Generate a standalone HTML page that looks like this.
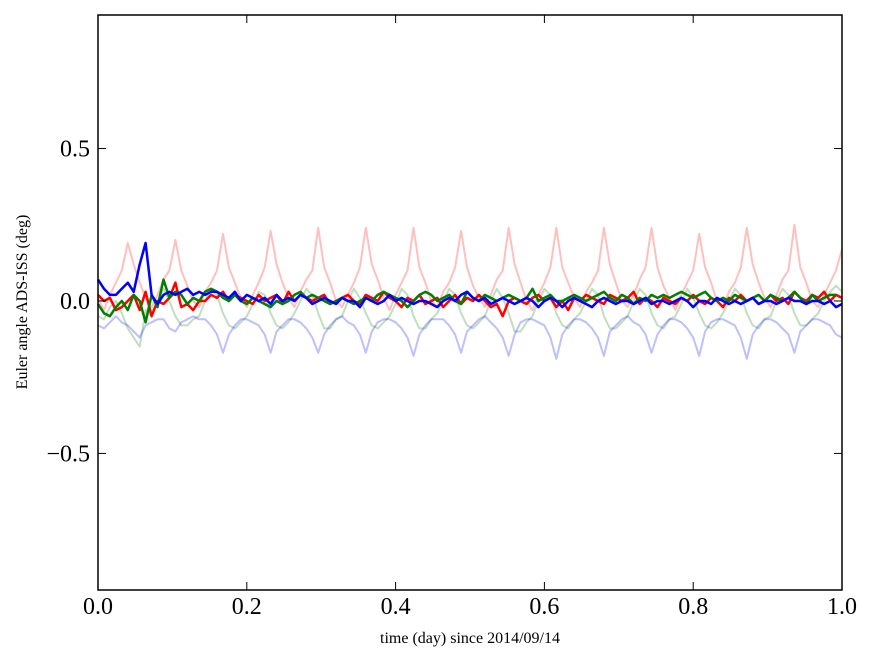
<!DOCTYPE html>
<html><head><meta charset="utf-8"><style>
body{margin:0;background:#fff;}
svg{display:block;font-family:"Liberation Serif",serif;}
</style></head><body>
<svg id="chart" width="875" height="662" viewBox="0 0 875 662" xmlns="http://www.w3.org/2000/svg">
<rect width="875" height="662" fill="#fff"/>
<g id="series"></g>
<rect x="98" y="15" width="744" height="575" fill="none" stroke="#000" stroke-width="1.5"/>
<g id="ticks"></g>
<text x="470" y="643" font-size="16" text-anchor="middle">time (day) since 2014/09/14</text>
<text transform="translate(27,302) rotate(-90)" font-size="16" text-anchor="middle">Euler angle ADS-ISS (deg)</text>
</svg>
<script>
const xTicks=[0,0.2,0.4,0.6,0.8,1.0];
const xTickLabels=["0.0","0.2","0.4","0.6","0.8","1.0"];
const yTicks=[0.5,0,-0.5];
const yTickLabels=["0.5","0.0","\u22120.5"];
const step=0.008;
const faintRed=[0.01,
-0.03,0.02,0.06,0.1,0.19,0.12,0.06,0.01,
-0.02,0.02,0.07,0.1,0.2,0.1,0.05,0.0,
-0.02,0.03,0.06,0.1,0.22,0.11,0.06,0.01,
-0.02,0.02,0.06,0.11,0.23,0.12,0.06,0.01,
-0.02,0.03,0.07,0.1,0.24,0.11,0.06,0.0,
-0.02,0.02,0.06,0.11,0.24,0.12,0.07,0.01,
-0.03,0.02,0.06,0.1,0.24,0.11,0.06,0.0,
-0.02,0.03,0.06,0.11,0.23,0.11,0.05,0.01,
-0.02,0.02,0.07,0.1,0.24,0.12,0.06,0.0,
-0.03,0.02,0.06,0.11,0.24,0.11,0.06,0.01,
-0.02,0.03,0.06,0.1,0.24,0.12,0.06,0.0,
-0.02,0.02,0.07,0.11,0.24,0.11,0.05,0.01,
-0.03,0.02,0.06,0.1,0.22,0.11,0.06,0.0,
-0.02,0.03,0.06,0.11,0.24,0.12,0.06,0.01,
-0.02,0.02,0.07,0.1,0.25,0.11,0.06,0.0,
-0.02,0.02,0.06,0.1,0.17];
const faintGreen=[-0.05,
-0.06,-0.02,0.0,-0.04,-0.09,-0.12,-0.15,-0.03,
-0.05,0.0,0.04,0.0,-0.05,-0.08,-0.08,-0.06,
-0.05,0.0,0.04,0.02,-0.04,-0.08,-0.09,-0.07,
-0.05,-0.01,0.03,0.02,-0.04,-0.08,-0.09,-0.07,
-0.04,0.0,0.04,0.02,-0.04,-0.09,-0.09,-0.06,
-0.05,0.0,0.04,0.01,-0.04,-0.08,-0.09,-0.07,
-0.05,-0.01,0.04,0.02,-0.05,-0.09,-0.09,-0.06,
-0.04,0.0,0.04,0.02,-0.04,-0.08,-0.09,-0.07,
-0.05,0.0,0.04,0.01,-0.04,-0.1,-0.1,-0.07,
-0.05,0.0,0.04,0.02,-0.04,-0.08,-0.09,-0.06,
-0.04,0.0,0.04,0.02,-0.05,-0.09,-0.09,-0.07,
-0.05,0.0,0.04,0.02,-0.04,-0.08,-0.09,-0.06,
-0.05,-0.01,0.04,0.01,-0.04,-0.08,-0.09,-0.07,
-0.04,0.0,0.04,0.02,-0.04,-0.08,-0.09,-0.06,
-0.05,0.0,0.04,0.02,-0.04,-0.08,-0.08,-0.06,
-0.04,0.0,0.03,0.05,0.03];
const faintBlue=[-0.08,
-0.09,-0.07,-0.05,-0.07,-0.08,-0.1,-0.12,-0.08,
-0.07,-0.06,-0.06,-0.09,-0.1,-0.07,-0.06,-0.05,
-0.06,-0.06,-0.08,-0.11,-0.17,-0.11,-0.08,-0.06,
-0.06,-0.07,-0.08,-0.11,-0.17,-0.1,-0.08,-0.06,
-0.06,-0.07,-0.09,-0.12,-0.17,-0.11,-0.08,-0.06,
-0.05,-0.07,-0.08,-0.11,-0.17,-0.1,-0.07,-0.06,
-0.06,-0.07,-0.09,-0.12,-0.18,-0.11,-0.08,-0.06,
-0.06,-0.06,-0.08,-0.11,-0.17,-0.1,-0.08,-0.06,
-0.05,-0.07,-0.09,-0.12,-0.18,-0.11,-0.07,-0.06,
-0.06,-0.07,-0.08,-0.12,-0.19,-0.11,-0.08,-0.06,
-0.06,-0.07,-0.09,-0.12,-0.18,-0.1,-0.08,-0.06,
-0.05,-0.07,-0.08,-0.11,-0.17,-0.11,-0.08,-0.06,
-0.06,-0.07,-0.09,-0.12,-0.18,-0.1,-0.07,-0.06,
-0.06,-0.07,-0.08,-0.12,-0.19,-0.11,-0.08,-0.06,
-0.06,-0.07,-0.09,-0.11,-0.17,-0.1,-0.08,-0.06,
-0.06,-0.07,-0.08,-0.11,-0.12];
const boldRed=[0.02,0.0,0.01,-0.03,-0.02,0.0,0.02,-0.03,0.03,-0.05,0.0,-0.01,0.01,0.06,-0.02,-0.01,-0.03,0.0,0.0,0.02,0.01,0.03,0.0,0.02,0.01,0.0,-0.01,0.02,0.0,0.01,0.02,-0.01,0.03,0.0,0.02,0.01,0.0,0.01,0.02,-0.01,0.0,0.01,0.02,0.0,-0.01,0.02,0.01,0.0,0.03,0.01,0.0,-0.02,0.01,0.0,0.02,-0.01,0.0,0.01,-0.02,0.0,0.02,-0.01,0.01,0.0,0.02,0.0,-0.02,-0.01,-0.05,0.0,0.01,0.0,-0.01,0.01,0.02,0.0,0.01,-0.02,0.0,-0.03,0.01,0.0,0.02,0.01,0.0,-0.01,0.02,0.01,0.0,0.01,0.03,-0.01,0.01,0.0,-0.02,0.01,0.0,-0.01,0.01,0.0,0.02,0.0,-0.01,0.01,0.0,-0.02,0.01,0.0,0.02,0.0,0.01,-0.01,0.0,0.02,0.0,0.01,-0.01,0.03,0.01,0.0,0.02,0.01,0.03,0.0,0.02,0.01];
const boldGreen=[-0.01,-0.04,-0.05,-0.02,0.0,-0.03,0.02,0.0,-0.07,0.02,-0.02,0.07,0.01,0.03,0.02,-0.01,0.01,0.0,0.03,0.04,0.03,0.01,0.0,0.02,0.0,-0.01,0.01,0.0,-0.01,-0.02,0.0,-0.01,0.0,0.02,0.03,0.01,0.02,0.01,0.0,-0.01,0.0,0.01,0.0,-0.01,0.0,0.01,0.0,0.02,0.03,0.02,0.01,0.0,-0.02,0.0,0.02,0.03,0.02,0.0,0.01,0.02,0.0,-0.01,0.03,0.01,0.0,0.02,0.01,0.0,0.01,0.02,0.01,0.0,0.01,0.04,0.0,0.01,0.02,0.0,0.0,0.01,0.02,0.01,0.0,0.01,0.02,0.03,0.01,0.0,0.02,0.01,-0.01,0.01,0.0,0.02,0.01,0.02,0.01,0.02,0.03,0.02,0.01,0.02,0.03,0.01,0.0,0.01,0.0,0.02,0.01,0.0,0.01,0.02,0.0,0.02,0.01,0.0,0.01,0.03,0.01,-0.01,0.02,0.0,0.01,0.02,0.02];
const boldBlue=[0.07,0.04,0.02,0.02,0.04,0.06,0.03,0.12,0.19,0.02,-0.01,0.02,0.03,0.02,0.03,0.04,0.02,0.03,0.02,0.03,0.03,0.02,0.01,0.03,0.0,0.02,0.01,0.0,0.01,-0.01,0.02,0.0,0.01,0.0,0.02,0.01,-0.01,0.0,0.01,0.0,-0.01,0.01,0.0,0.0,-0.02,0.01,0.0,-0.01,0.0,0.02,0.0,0.01,0.0,-0.01,0.0,0.0,-0.01,-0.02,0.0,0.01,0.0,0.02,0.03,0.01,0.0,0.01,-0.01,0.0,0.01,0.0,-0.01,0.0,0.01,0.0,-0.02,0.0,0.01,0.0,-0.02,0.0,0.01,0.0,-0.01,-0.02,0.0,0.01,0.0,-0.01,0.0,0.0,-0.01,0.0,0.01,-0.01,0.0,0.0,-0.01,0.0,0.01,0.0,-0.02,0.0,0.0,-0.01,0.01,0.0,-0.01,0.0,-0.01,0.0,0.01,-0.01,0.0,0.0,-0.01,0.0,0.01,0.0,0.0,-0.01,0.0,0.0,-0.01,0.0,-0.02,-0.01];

const X0=98,X1=842,Y0=15,Y1=590,YMIN=-0.948,YMAX=0.938;
const xs=v=>X0+(v-0)/(1-0)*(X1-X0);
const ys=v=>Y1-(v-YMIN)/(YMAX-YMIN)*(Y1-Y0);
const NS="http://www.w3.org/2000/svg";
const g=document.getElementById('series');
function line(data,color,op,w,name){
  const p=document.createElementNS(NS,'path');
  let d='';
  data.forEach((v,i)=>{d+=(i?'L':'M')+xs(Math.min(1,i*step)).toFixed(1)+' '+ys(v).toFixed(1);});
  p.setAttribute('d',d);p.setAttribute('fill','none');p.setAttribute('stroke',color);
  p.setAttribute('stroke-opacity',op);p.setAttribute('stroke-width',w);p.setAttribute('stroke-linejoin','round');
  
  
  g.appendChild(p);
}
line(faintRed,'#f00',0.25,2,'faint-red-series');
line(faintGreen,'#008000',0.25,2,'faint-green-series');
line(faintBlue,'#00f',0.25,2,'faint-blue-series');
line(boldRed,'#f00',1,2.5,'red-series');
line(boldGreen,'#008000',1,2.5,'green-series');
line(boldBlue,'#00f',1,2.5,'blue-series');
const t=document.getElementById('ticks');
function el(tag,attrs){const e=document.createElementNS(NS,tag);for(const k in attrs)e.setAttribute(k,attrs[k]);t.appendChild(e);return e;}
xTicks.forEach((v,i)=>{
  const x=xs(v);
  const a=el('line',{x1:x,x2:x,y1:Y1,y2:Y1-8,stroke:'#000'});
  
  
  const b=el('line',{x1:x,x2:x,y1:Y0,y2:Y0+8,stroke:'#000'});
  
  
  const tx=el('text',{x:x,y:614,'font-size':24,'text-anchor':'middle'});
  tx.textContent=xTickLabels[i];
  
  
});
yTicks.forEach((v,i)=>{
  const y=ys(v);
  const a=el('line',{x1:X0,x2:X0+8,y1:y,y2:y,stroke:'#000'});
  
  
  const b=el('line',{x1:X1,x2:X1-8,y1:y,y2:y,stroke:'#000'});
  
  
  const tx=el('text',{x:90,y:y+8,'font-size':24,'text-anchor':'end'});
  tx.textContent=yTickLabels[i];
  
  
});
</script>
</body></html>
